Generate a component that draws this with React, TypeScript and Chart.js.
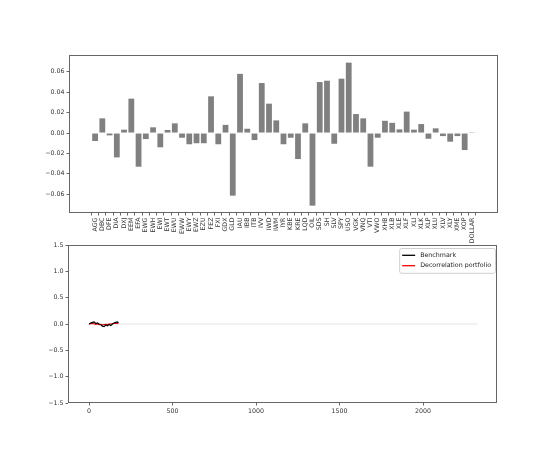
import React, { useEffect, useRef } from "react";
import { Chart, registerables } from "chart.js";

Chart.register(...registerables);

// ---------- data ----------
const tickers = [
  "AGG", "DBC", "DFE", "DIA", "DXJ", "EEM", "EFA", "EWG", "EWH", "EWI",
  "EWT", "EWU", "EWW", "EWY", "EWZ", "EZU", "FEZ", "FXI", "GDX", "GLD",
  "IAU", "IBB", "ITB", "IVV", "IWD", "IWM", "IYR", "KBE", "KRE", "LQD",
  "OIL", "SDS", "SH", "SLV", "SPY", "USO", "VGK", "VNQ", "VTI", "VWO",
  "XHB", "XLB", "XLE", "XLF", "XLI", "XLK", "XLP", "XLU", "XLV", "XLY",
  "XME", "XOP", "DOLLAR",
];
const weights = [
  -0.0078, 0.0144, -0.0023, -0.0239, 0.0033, 0.0337, -0.033, -0.0059, 0.0056, -0.014,
  0.003, 0.0095, -0.0046, -0.011, -0.010, -0.010, 0.036, -0.011, 0.008, -0.0614,
  0.058, 0.0042, -0.0069, 0.049, 0.0288, 0.0124, -0.011, -0.0046, -0.0255, 0.0095,
  -0.0712, 0.050, 0.0513, -0.0105, 0.0533, 0.069, 0.0186, 0.0144, -0.033, -0.0046,
  0.012, 0.010, 0.0036, 0.021, 0.0033, 0.0088, -0.0056, 0.0046, -0.003, -0.0085,
  -0.003, -0.0167, 0.0002,
];
const topYTicks = [-0.06, -0.04, -0.02, 0, 0.02, 0.04, 0.06];

const timeX = [0, 10, 20, 30, 40, 50, 60, 70, 80, 90, 100, 110, 120, 130, 140, 150, 160, 170, 176];
const benchmark = [0.0, 0.02, 0.03, 0.04, 0.01, 0.02, 0.0, -0.01, -0.04, -0.05, -0.02, -0.035, -0.01, -0.03, 0.0, 0.02, 0.03, 0.04, 0.025];
const portfolio = [0.0, 0.005, 0.01, 0.005, -0.005, 0.0, -0.01, -0.01, -0.015, -0.01, -0.005, -0.01, 0.0, 0.0, 0.005, 0.01, 0.01, 0.015, 0.01];
const zeroLineX = [0, 2330];
const zeroLineY = [0, 0];
const bottomXTicks = [0, 500, 1000, 1500, 2000];
const bottomYTicks = [-1.5, -1.0, -0.5, 0, 0.5, 1.0, 1.5];

// ---------- helpers ----------
const FONT = "DejaVu Sans";
const FS = 6.3;
const TICK_COLOR = "#333";
const AXIS_COLOR = "#666";

const fmt = (v: number, d: number) => {
  const s = Math.abs(v) < 1e-12 ? (0).toFixed(d) : v.toFixed(d);
  return s.replace("-", "\u2212");
};

const framePlugin = {
  id: "frame",
  afterDraw(chart: any) {
    const { ctx, chartArea } = chart;
    const l = Math.round(chartArea.left) + 0.5;
    const t = Math.round(chartArea.top) + 0.5;
    const r = Math.round(chartArea.right) - 0.5;
    const b = Math.round(chartArea.bottom) - 0.5;
    ctx.save();
    ctx.strokeStyle = AXIS_COLOR;
    ctx.lineWidth = 1;
    ctx.strokeRect(l, t, r - l, b - t);
    ctx.restore();
  },
};

const legendPlugin = {
  id: "mplLegend",
  afterDraw(chart: any) {
    const items = chart.data.datasets.filter((d: any) => d.label);
    if (!items.length) return;
    const { ctx, chartArea } = chart;
    ctx.save();
    ctx.font = `${FS}px "${FONT}"`;
    const textW = Math.max(...items.map((d: any) => ctx.measureText(d.label).width));
    const pad = 3;
    const handle = 13;
    const gap = 5;
    const rowH = 10.4;
    const w = pad + handle + gap + textW + 4;
    const h = pad + rowH * items.length + 1;
    const right = chartArea.right - 2;
    const top = chartArea.top + 3;
    const left = right - w;
    ctx.fillStyle = "rgba(255,255,255,0.85)";
    ctx.strokeStyle = "#d0d0d0";
    ctx.lineWidth = 1;
    ctx.beginPath();
    (ctx as any).roundRect(left + 0.5, top + 0.5, w, h, 2);
    ctx.fill();
    ctx.stroke();
    items.forEach((d: any, i: number) => {
      const y = top + pad + rowH * i + 4.3;
      ctx.strokeStyle = d.borderColor;
      ctx.lineWidth = 1.3;
      ctx.beginPath();
      ctx.moveTo(left + pad, y);
      ctx.lineTo(left + pad + handle, y);
      ctx.stroke();
      ctx.fillStyle = "#222";
      ctx.textBaseline = "middle";
      ctx.textAlign = "left";
      ctx.fillText(d.label, left + pad + handle + gap, y);
    });
    ctx.restore();
  },
};

const gridOpts = {
  display: true,
  drawOnChartArea: false,
  drawTicks: true,
  tickLength: 2.5,
  color: AXIS_COLOR,
};

export default function App() {
  const topRef = useRef<HTMLCanvasElement | null>(null);
  const botRef = useRef<HTMLCanvasElement | null>(null);

  useEffect(() => {
    const topChart = new Chart(topRef.current as HTMLCanvasElement, {
      type: "bar",
      data: {
        datasets: [
          {
            label: "",
            data: weights.map((w, i) => ({ x: i, y: w })),
            backgroundColor: "#808080",
            borderWidth: 0,
            barPercentage: 0.8,
            categoryPercentage: 1.0,
          },
        ],
      },
      options: {
        animation: false,
        responsive: false,
        devicePixelRatio: 1,
        layout: { padding: { top: 55, right: 54, left: 0, bottom: 0 } },
        plugins: { legend: { display: false }, tooltip: { enabled: false } },
        scales: {
          x: {
            type: "linear",
            min: -3.04,
            max: 55.04,
            grid: gridOpts,
            border: { display: false },
            afterBuildTicks: (s: any) => {
              s.ticks = tickers.map((_, i) => ({ value: i }));
            },
            afterFit: (s: any) => {
              s.height = 37;
              s.paddingLeft = 0;
              s.paddingRight = 0;
            },
            ticks: {
              autoSkip: false,
              minRotation: 90,
              maxRotation: 90,
              padding: 2,
              color: TICK_COLOR,
              font: { family: FONT, size: FS },
              callback: (v: any) => tickers[Math.round(Number(v))] ?? "",
            },
          },
          y: {
            type: "linear",
            min: -0.0784,
            max: 0.0765,
            grid: gridOpts,
            border: { display: false },
            afterBuildTicks: (s: any) => {
              s.ticks = topYTicks.map((v) => ({ value: v }));
            },
            afterFit: (s: any) => {
              s.width = 69;
              s.paddingTop = 0;
              s.paddingBottom = 0;
            },
            ticks: {
              padding: 2,
              color: TICK_COLOR,
              font: { family: FONT, size: FS },
              callback: (v: any) => fmt(Number(v), 2),
            },
          },
        },
      },
      plugins: [framePlugin],
    } as any);

    const botChart = new Chart(botRef.current as HTMLCanvasElement, {
      type: "line",
      data: {
        datasets: [
          {
            label: "",
            data: zeroLineX.map((x, i) => ({ x, y: zeroLineY[i] })),
            borderColor: "rgba(0,0,0,0.05)",
            borderWidth: 2,
            pointRadius: 0,
          },
          {
            label: "Benchmark",
            data: timeX.map((x, i) => ({ x, y: benchmark[i] })),
            borderColor: "#000000",
            borderWidth: 1.2,
            pointRadius: 0,
            tension: 0,
          },
          {
            label: "Decorrelation portfolio",
            data: timeX.map((x, i) => ({ x, y: portfolio[i] })),
            borderColor: "#ff0000",
            borderWidth: 1.2,
            pointRadius: 0,
            tension: 0,
          },
        ],
      },
      options: {
        animation: false,
        responsive: false,
        devicePixelRatio: 1,
        layout: { padding: { top: 10, right: 55, left: 0, bottom: 0 } },
        plugins: { legend: { display: false }, tooltip: { enabled: false } },
        scales: {
          x: {
            type: "linear",
            min: -126,
            max: 2443,
            grid: gridOpts,
            border: { display: false },
            afterBuildTicks: (s: any) => {
              s.ticks = bottomXTicks.map((v) => ({ value: v }));
            },
            afterFit: (s: any) => {
              s.height = 57;
              s.paddingLeft = 0;
              s.paddingRight = 0;
            },
            ticks: {
              minRotation: 0,
              maxRotation: 0,
              padding: 2,
              color: TICK_COLOR,
              font: { family: FONT, size: FS },
              callback: (v: any) => String(Math.round(Number(v))),
            },
          },
          y: {
            type: "linear",
            min: -1.5,
            max: 1.5,
            grid: gridOpts,
            border: { display: false },
            afterBuildTicks: (s: any) => {
              s.ticks = bottomYTicks.map((v) => ({ value: v }));
            },
            afterFit: (s: any) => {
              s.width = 68;
              s.paddingTop = 0;
              s.paddingBottom = 0;
            },
            ticks: {
              padding: 2,
              color: TICK_COLOR,
              font: { family: FONT, size: FS },
              callback: (v: any) => fmt(Number(v), 1),
            },
          },
        },
      },
      plugins: [framePlugin, legendPlugin],
    } as any);

    return () => {
      topChart.destroy();
      botChart.destroy();
    };
  }, []);

  return (
    <div style={{ position: "absolute", left: 0, top: 0, width: 552, height: 460, background: "#fff" }}>
      <canvas
        ref={botRef}
        width={552}
        height={225}
        style={{ position: "absolute", left: 0, top: 235, width: 552, height: 225 }}
      />
      <canvas
        ref={topRef}
        width={552}
        height={250}
        style={{ position: "absolute", left: 0, top: 0, width: 552, height: 250 }}
      />
    </div>
  );
}
